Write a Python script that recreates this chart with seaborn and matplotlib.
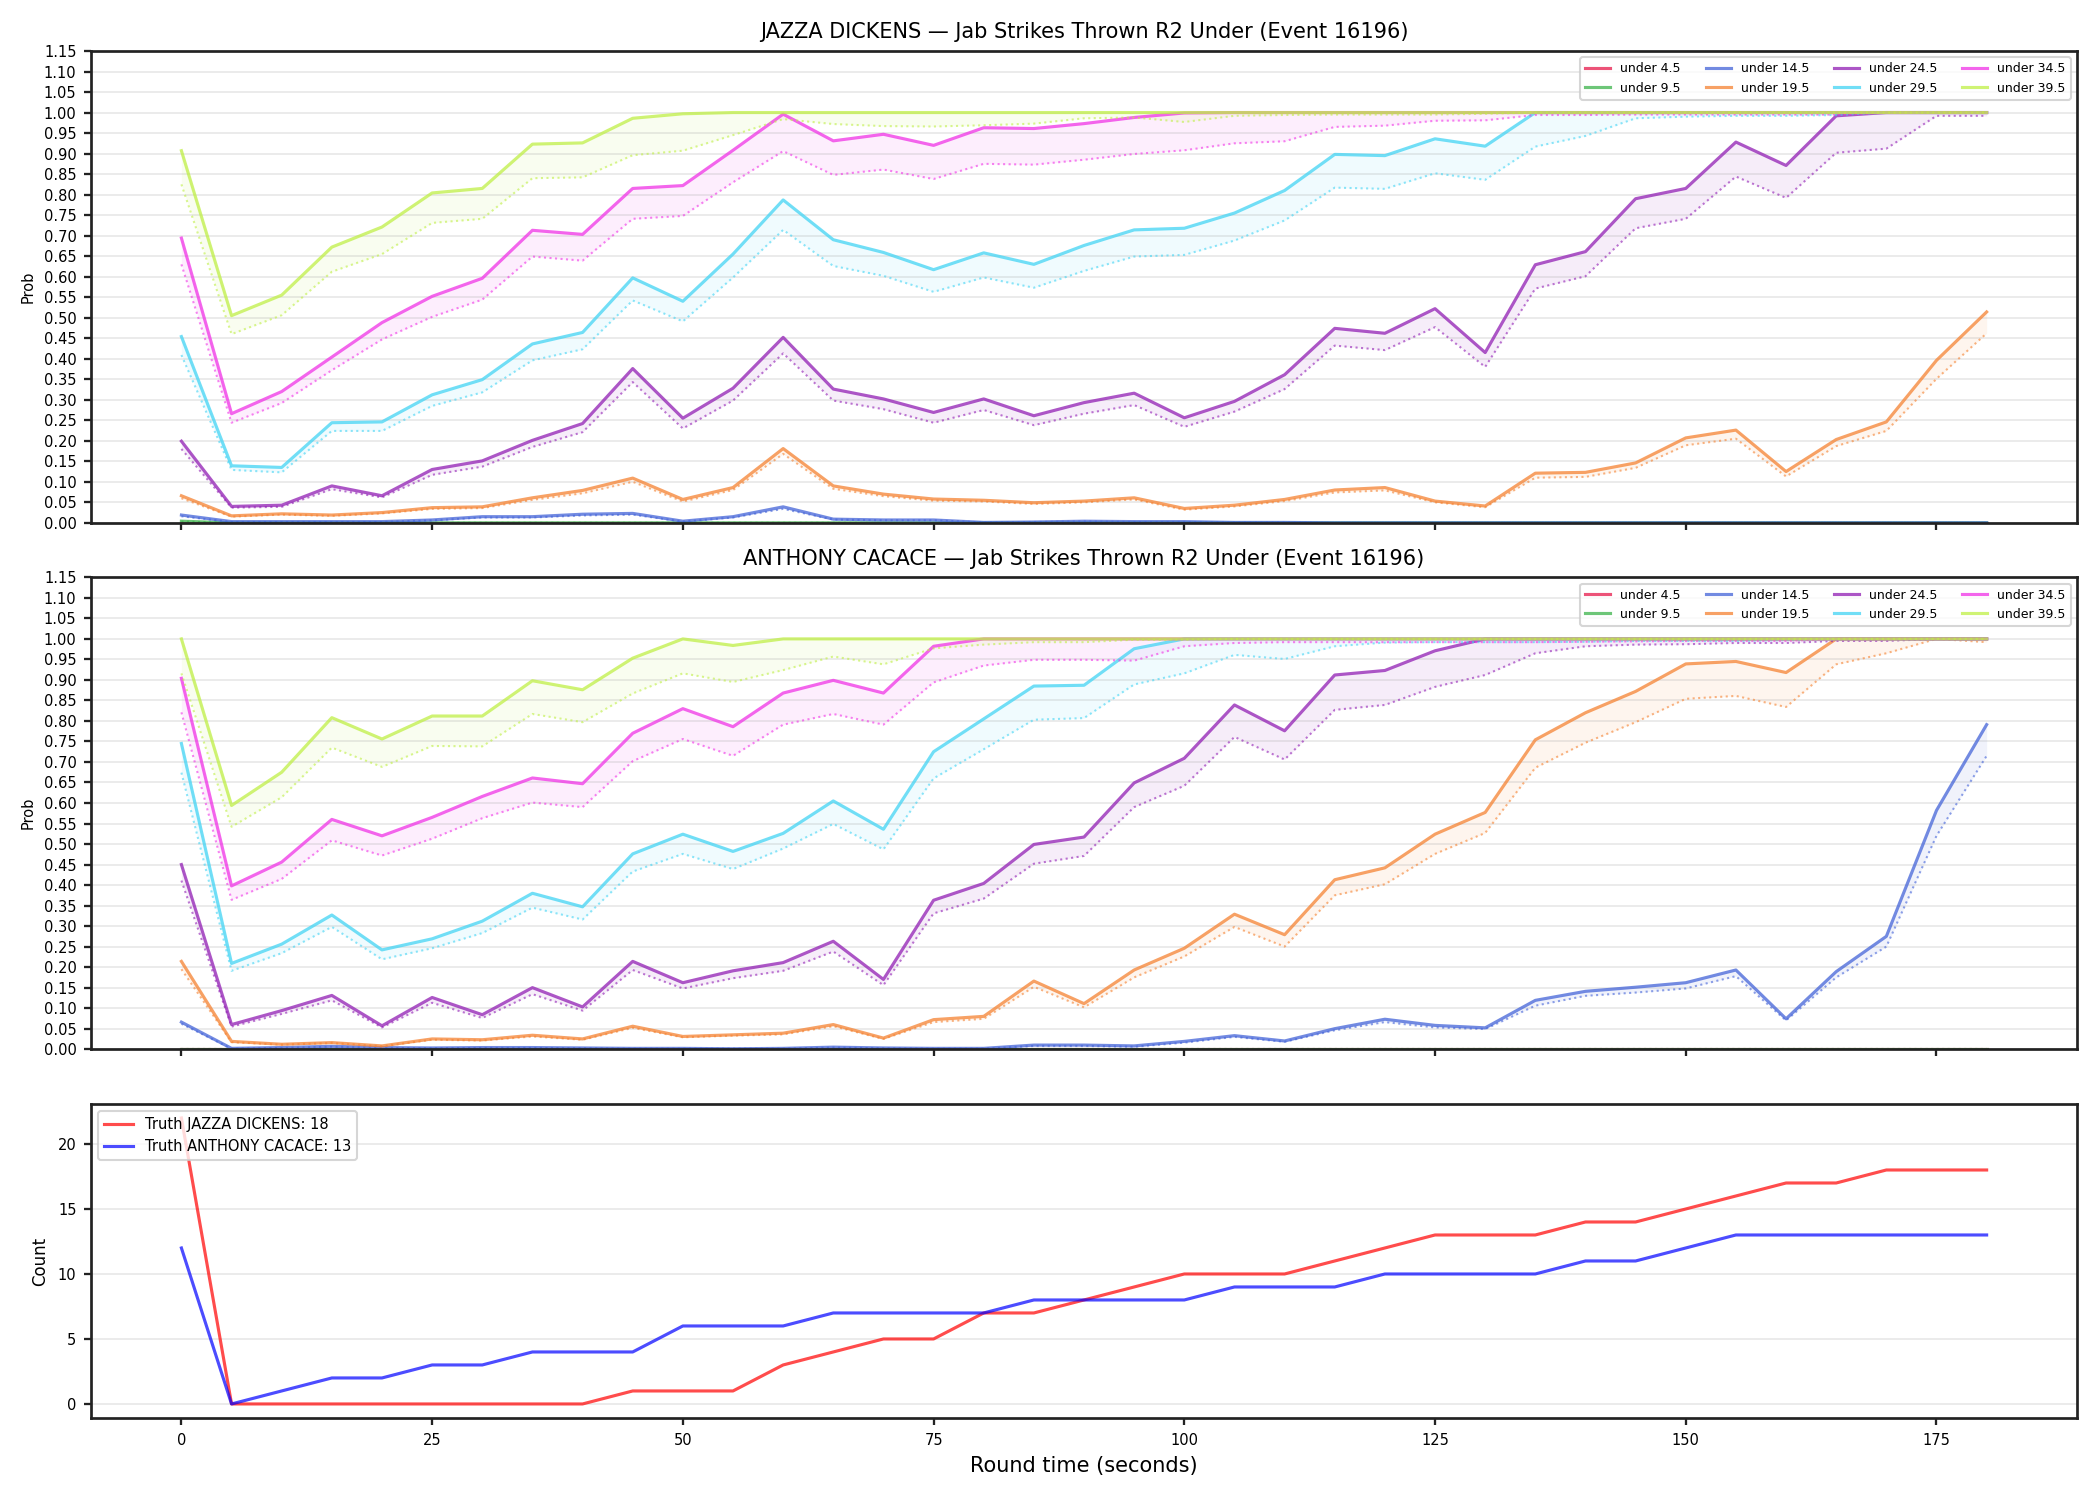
import numpy as np
import pandas as pd
import matplotlib
matplotlib.use("Agg")
import matplotlib.pyplot as plt
import seaborn as sns

# temps du round (secondes)
T = list(range(0, 185, 5))

thresholds = ["under 4.5", "under 9.5", "under 14.5", "under 19.5",
              "under 24.5", "under 29.5", "under 34.5", "under 39.5"]
colors = ["#e6194b", "#3cb44b", "#4363d8", "#f58231",
          "#911eb4", "#42d4f4", "#f032e6", "#bfef45"]

Z = [0.0] * 37

# ---- JAZZA DICKENS : prob (ligne pleine) et borne basse (pointillés)
j_u4 = Z
j_u4_lo = Z
j_u9 = [0.004] + [0.0] * 36
j_u9_lo = [0.003] + [0.0] * 36
j_u14 = [0.019, 0.003, 0.003, 0.003, 0.003, 0.007, 0.015, 0.015, 0.021, 0.023, 0.004, 0.015, 0.039,
         0.009, 0.007, 0.007, 0.001, 0.002, 0.004, 0.003, 0.003, 0.001, 0.001] + [0.0] * 14
j_u14_lo = [0.016, 0.002, 0.002, 0.002, 0.002, 0.006, 0.013, 0.013, 0.018, 0.020, 0.003, 0.013, 0.034,
            0.008, 0.006, 0.006, 0.001, 0.002, 0.003, 0.002, 0.002, 0.001, 0.001] + [0.0] * 14
j_u19 = [0.066, 0.017, 0.022, 0.019, 0.025, 0.037, 0.039, 0.061, 0.079, 0.109, 0.057, 0.086, 0.181,
         0.090, 0.070, 0.058, 0.055, 0.049, 0.053, 0.061, 0.035, 0.043, 0.057, 0.080, 0.086, 0.053,
         0.041, 0.121, 0.123, 0.146, 0.207, 0.226, 0.125, 0.203, 0.246, 0.396, 0.514]
j_u19_lo = [0.060, 0.015, 0.020, 0.017, 0.023, 0.034, 0.036, 0.056, 0.072, 0.100, 0.052, 0.080, 0.168,
            0.083, 0.065, 0.054, 0.052, 0.046, 0.050, 0.057, 0.032, 0.040, 0.053, 0.074, 0.079, 0.050,
            0.038, 0.110, 0.112, 0.134, 0.189, 0.205, 0.113, 0.187, 0.224, 0.351, 0.462]
j_u24 = [0.199, 0.040, 0.043, 0.090, 0.066, 0.130, 0.151, 0.201, 0.242, 0.376, 0.255, 0.328, 0.452,
         0.326, 0.302, 0.269, 0.302, 0.261, 0.293, 0.316, 0.256, 0.296, 0.361, 0.474, 0.462, 0.522,
         0.415, 0.629, 0.661, 0.790, 0.815, 0.928, 0.871, 0.992, 1.0, 1.0, 1.0]
j_u24_lo = [0.180, 0.037, 0.039, 0.082, 0.062, 0.117, 0.137, 0.185, 0.221, 0.343, 0.230, 0.298, 0.413,
            0.298, 0.277, 0.244, 0.275, 0.238, 0.266, 0.287, 0.234, 0.271, 0.326, 0.432, 0.421, 0.477,
            0.380, 0.571, 0.601, 0.718, 0.741, 0.844, 0.792, 0.902, 0.912, 0.992, 0.992]
j_u29 = [0.454, 0.139, 0.135, 0.244, 0.246, 0.312, 0.349, 0.436, 0.464, 0.597, 0.540, 0.655, 0.787,
         0.690, 0.659, 0.617, 0.658, 0.630, 0.676, 0.714, 0.718, 0.755, 0.810, 0.898, 0.895, 0.936,
         0.918] + [1.0] * 10
j_u29_lo = [0.409, 0.129, 0.123, 0.224, 0.224, 0.285, 0.318, 0.396, 0.423, 0.542, 0.491, 0.598, 0.714,
            0.626, 0.602, 0.563, 0.598, 0.573, 0.614, 0.649, 0.653, 0.688, 0.737, 0.817, 0.814, 0.852,
            0.836, 0.917, 0.943, 0.986, 0.990, 0.992, 0.992, 0.994, 1.0, 1.0, 1.0]
j_u34 = [0.694, 0.266, 0.320, 0.404, 0.488, 0.552, 0.596, 0.713, 0.703, 0.815, 0.822, 0.908, 0.996,
         0.931, 0.947, 0.920, 0.963, 0.961, 0.973, 0.988, 0.999] + [1.0] * 16
j_u34_lo = [0.630, 0.244, 0.292, 0.372, 0.447, 0.502, 0.544, 0.649, 0.639, 0.741, 0.748, 0.830, 0.906,
            0.848, 0.861, 0.838, 0.875, 0.873, 0.885, 0.899, 0.908, 0.925, 0.930, 0.965, 0.968, 0.980,
            0.981, 0.994, 0.994, 0.995, 0.995, 0.995, 0.995, 0.995, 1.0, 1.0, 1.0]
j_u39 = [0.907, 0.505, 0.555, 0.672, 0.721, 0.804, 0.815, 0.923, 0.926, 0.986, 0.997] + [1.0] * 26
j_u39_lo = [0.825, 0.460, 0.506, 0.612, 0.655, 0.731, 0.741, 0.840, 0.842, 0.896, 0.907, 0.945, 0.984,
            0.972, 0.967, 0.966, 0.969, 0.973, 0.986, 0.988, 0.977, 0.992, 0.994, 0.995, 0.995, 0.995,
            0.997] + [1.0] * 10

# ---- ANTHONY CACACE
a_u4 = Z
a_u4_lo = Z
a_u9 = Z
a_u9_lo = Z
a_u14 = [0.066, 0.002, 0.004, 0.007, 0.004, 0.003, 0.004, 0.004, 0.003, 0.002, 0.002, 0.001, 0.002,
         0.005, 0.003, 0.002, 0.002, 0.010, 0.010, 0.008, 0.019, 0.033, 0.020, 0.050, 0.073, 0.058,
         0.052, 0.119, 0.141, 0.151, 0.162, 0.193, 0.074, 0.189, 0.275, 0.582, 0.791]
a_u14_lo = [0.062, 0.001, 0.003, 0.006, 0.003, 0.002, 0.003, 0.003, 0.002, 0.001, 0.001, 0.001, 0.001,
            0.004, 0.002, 0.001, 0.001, 0.008, 0.008, 0.006, 0.016, 0.030, 0.018, 0.046, 0.066, 0.053,
            0.049, 0.106, 0.130, 0.138, 0.148, 0.178, 0.070, 0.175, 0.250, 0.520, 0.715]
a_u19 = [0.214, 0.019, 0.012, 0.016, 0.008, 0.025, 0.023, 0.034, 0.025, 0.056, 0.031, 0.035, 0.039,
         0.060, 0.027, 0.072, 0.080, 0.166, 0.111, 0.193, 0.246, 0.329, 0.279, 0.413, 0.442, 0.524,
         0.577, 0.754, 0.820, 0.872, 0.939, 0.945, 0.918, 1.0, 1.0, 1.0, 1.0]
a_u19_lo = [0.195, 0.017, 0.011, 0.015, 0.007, 0.023, 0.021, 0.031, 0.023, 0.052, 0.029, 0.033, 0.036,
            0.056, 0.025, 0.066, 0.074, 0.152, 0.102, 0.175, 0.226, 0.298, 0.250, 0.375, 0.402, 0.476,
            0.527, 0.686, 0.747, 0.797, 0.854, 0.861, 0.834, 0.938, 0.965, 1.0, 0.992]
a_u24 = [0.450, 0.060, 0.094, 0.131, 0.057, 0.126, 0.084, 0.150, 0.103, 0.214, 0.162, 0.191, 0.211,
         0.263, 0.170, 0.363, 0.404, 0.499, 0.517, 0.649, 0.709, 0.839, 0.776, 0.912, 0.923, 0.971] + [1.0] * 11
a_u24_lo = [0.411, 0.055, 0.086, 0.119, 0.053, 0.113, 0.076, 0.134, 0.094, 0.193, 0.148, 0.173, 0.191,
            0.238, 0.156, 0.331, 0.367, 0.452, 0.471, 0.590, 0.642, 0.761, 0.706, 0.827, 0.839, 0.883,
            0.912, 0.965, 0.982, 0.986, 0.987, 0.990, 0.990, 0.995, 0.995, 1.0, 1.0]
a_u29 = [0.745, 0.209, 0.256, 0.327, 0.242, 0.269, 0.312, 0.380, 0.347, 0.476, 0.524, 0.482, 0.526,
         0.605, 0.536, 0.725, 0.805, 0.885, 0.887, 0.976] + [1.0] * 17
a_u29_lo = [0.674, 0.191, 0.234, 0.298, 0.219, 0.246, 0.283, 0.345, 0.316, 0.433, 0.476, 0.439, 0.489,
            0.549, 0.487, 0.660, 0.731, 0.803, 0.807, 0.889, 0.916, 0.961, 0.951, 0.982, 0.991, 0.992,
            0.992, 0.992, 0.993, 0.995, 0.995, 0.995, 0.997, 1.0, 1.0, 1.0, 1.0]
a_u34 = [0.904, 0.398, 0.456, 0.560, 0.520, 0.565, 0.616, 0.661, 0.647, 0.770, 0.830, 0.786, 0.868,
         0.899, 0.868, 0.982] + [1.0] * 21
a_u34_lo = [0.821, 0.364, 0.415, 0.509, 0.472, 0.513, 0.563, 0.601, 0.590, 0.702, 0.756, 0.715, 0.791,
            0.817, 0.791, 0.894, 0.935, 0.949, 0.949, 0.947, 0.982, 0.990, 0.992, 0.992, 0.992, 0.992,
            0.992, 0.992, 0.993, 0.994, 0.995, 0.995, 0.995, 1.0, 1.0, 1.0, 1.0]
a_u39 = [1.0, 0.594, 0.675, 0.808, 0.756, 0.812, 0.812, 0.898, 0.876, 0.953, 1.0, 0.984] + [1.0] * 25
a_u39_lo = [0.916, 0.542, 0.614, 0.735, 0.688, 0.739, 0.738, 0.817, 0.797, 0.867, 0.916, 0.895, 0.924,
            0.957, 0.938, 0.977, 0.986, 0.992, 0.992, 0.998, 0.998] + [1.0] * 16

# ---- compteurs réels
truth_jazza = [22, 0, 0, 0, 0, 0, 0, 0, 0, 1, 1, 1, 3, 4, 5, 5, 7, 7, 8, 9, 10, 10, 10, 11, 12, 13, 13,
               13, 14, 14, 15, 16, 17, 17, 18, 18, 18]
truth_anthony = [12, 0, 1, 2, 2, 3, 3, 4, 4, 4, 6, 6, 6, 7, 7, 7, 7, 8, 8, 8, 8, 9, 9, 9, 10, 10, 10,
                 10, 11, 11, 12, 13, 13, 13, 13, 13, 13]

jazza = [(j_u4, j_u4_lo), (j_u9, j_u9_lo), (j_u14, j_u14_lo), (j_u19, j_u19_lo),
         (j_u24, j_u24_lo), (j_u29, j_u29_lo), (j_u34, j_u34_lo), (j_u39, j_u39_lo)]
anthony = [(a_u4, a_u4_lo), (a_u9, a_u9_lo), (a_u14, a_u14_lo), (a_u19, a_u19_lo),
           (a_u24, a_u24_lo), (a_u29, a_u29_lo), (a_u34, a_u34_lo), (a_u39, a_u39_lo)]

fig, axes = plt.subplots(3, 1, figsize=(14, 10), dpi=150, sharex=True,
                         gridspec_kw={"height_ratios": [3, 3, 2]})
fig.subplots_adjust(left=0.0434, right=0.989, top=0.966, bottom=0.0545, hspace=0.13)


def style_axes(ax):
    for sp in ax.spines.values():
        sp.set_linewidth(1.3)
        sp.set_color("#222222")
    ax.tick_params(labelsize=7, width=1.1, color="#222222")
    ax.grid(axis="y", alpha=0.3)


def prob_panel(ax, series, name):
    for label, col, (hi, lo) in zip(thresholds, colors, series):
        df = pd.DataFrame({"t": T, "p": hi, "lo": lo})
        sns.lineplot(data=df, x="t", y="p", ax=ax, color=col, lw=1.5, alpha=0.75, label=label)
        sns.lineplot(data=df, x="t", y="lo", ax=ax, color=col, lw=1.0, alpha=0.6, linestyle=":")
        ax.fill_between(df["t"], df["lo"], df["p"], color=col, alpha=0.08, lw=0)
    ax.set_ylim(0, 1.15)
    ax.set_yticks(np.arange(0, 1.151, 0.05))
    ax.set_yticklabels([f"{v:.2f}" for v in np.arange(0, 1.151, 0.05)])
    ax.set_ylabel("Prob", fontsize=7)
    ax.set_xlabel("")
    ax.set_title(f"{name} — Jab Strikes Thrown R2 Under (Event 16196)", fontsize=10)
    style_axes(ax)
    ax.legend(loc="upper right", ncol=4, fontsize=6)


prob_panel(axes[0], jazza, "JAZZA DICKENS")
prob_panel(axes[1], anthony, "ANTHONY CACACE")

ax = axes[2]
tr = pd.DataFrame({"t": T, "jazza": truth_jazza, "anthony": truth_anthony})
sns.lineplot(data=tr, x="t", y="jazza", ax=ax, color="red", lw=1.5, alpha=0.7,
             label=f"Truth JAZZA DICKENS: {truth_jazza[-1]}")
sns.lineplot(data=tr, x="t", y="anthony", ax=ax, color="blue", lw=1.5, alpha=0.7,
             label=f"Truth ANTHONY CACACE: {truth_anthony[-1]}")
ax.set_ylabel("Count", fontsize=8)
ax.set_xlabel("Round time (seconds)", fontsize=10)
style_axes(ax)
ax.legend(loc="upper left", fontsize=7)

fig.savefig("out.png", dpi=150)
